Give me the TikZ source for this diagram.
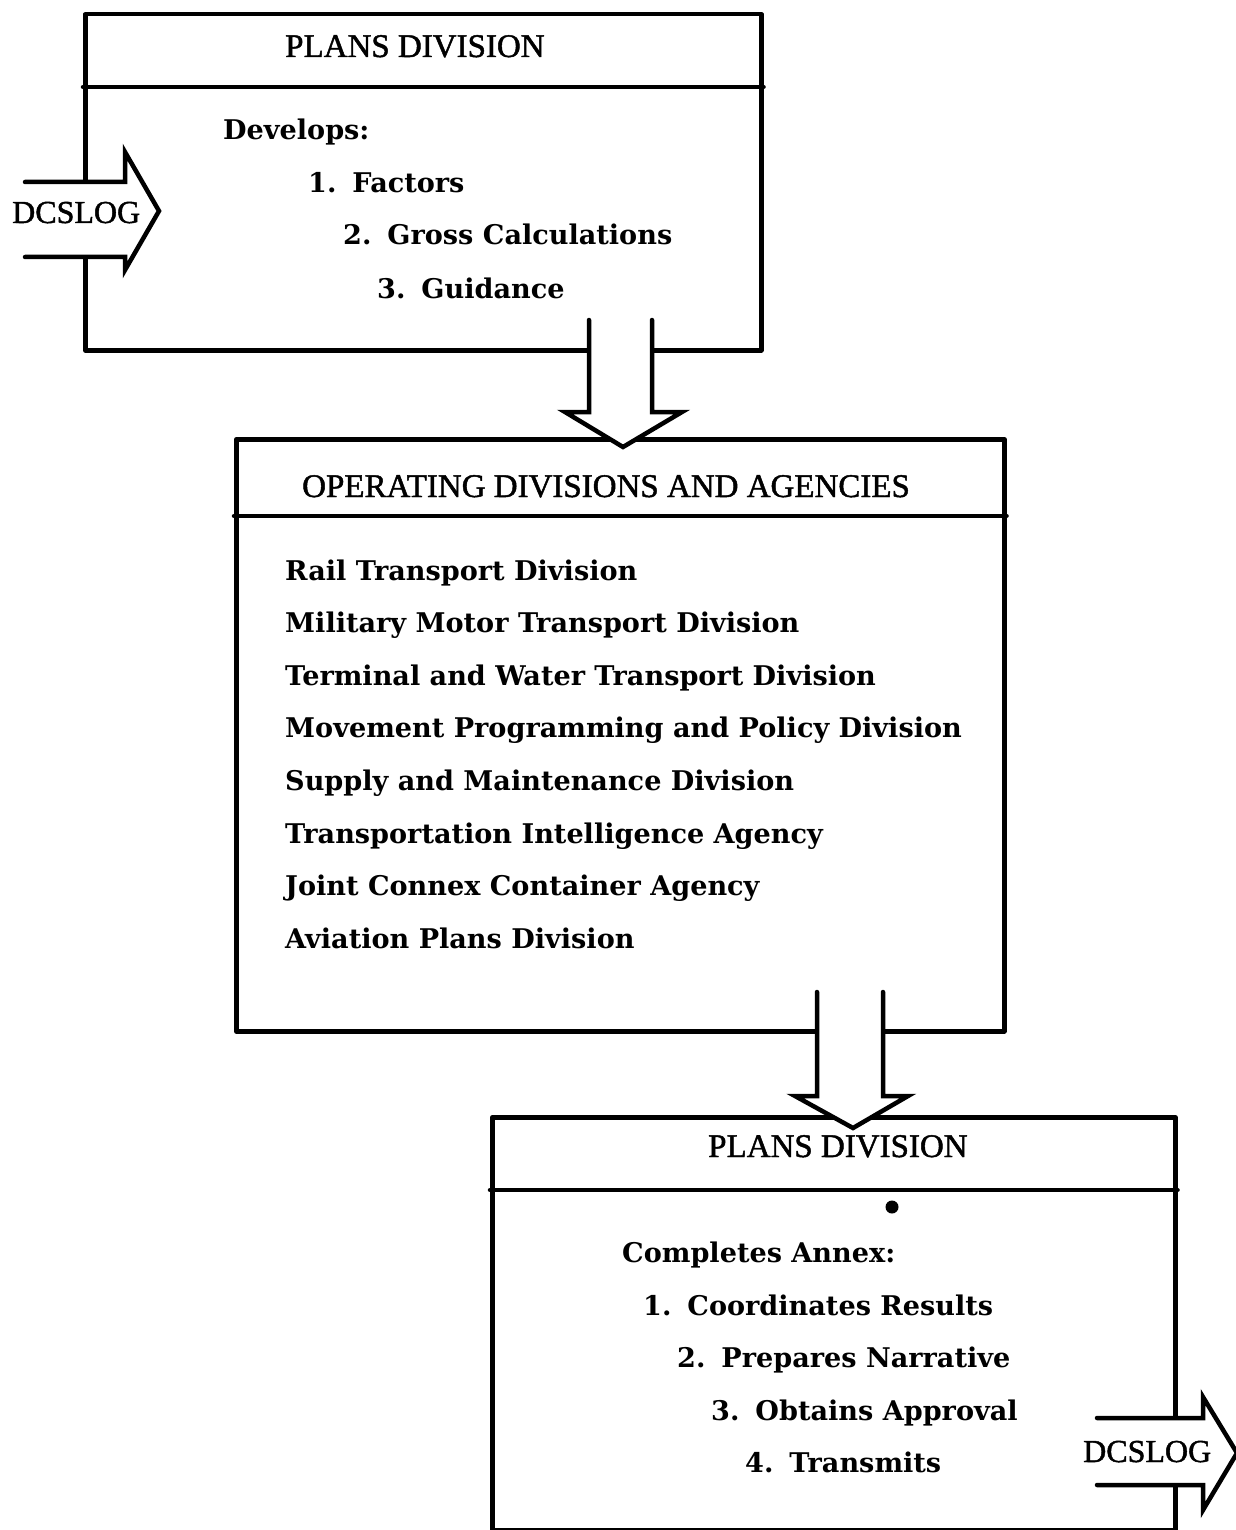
\documentclass[tikz,border=0pt]{standalone}
\usepackage{fontspec}
\setmainfont{Liberation Serif}
\newfontfamily\headfont[FakeBold=1.4]{Liberation Serif}
\newfontfamily\bodyfont{DejaVu Serif}
\newcommand{\numgap}{\hspace{16pt}}
\tikzset{
  box/.style={draw, line width=4.5pt, line join=round, fill=white, inner sep=0pt, anchor=north west},
  rule/.style={line width=4.5pt, line cap=round},
  arrowfill/.style={fill=white},
  arrowline/.style={draw, line width=4.5pt, line join=miter, line cap=round},
  head/.style={font=\headfont\fontsize{33}{36}\selectfont, anchor=base west, inner sep=0pt},
  item/.style={font=\bodyfont\bfseries\fontsize{27.1}{30}\selectfont, anchor=base west, inner sep=0pt},
}
\begin{document}
\begin{tikzpicture}[x=1pt,y=-1pt]
\useasboundingbox (0,0) rectangle (1235,1530);

% ---------- boxes ----------
\node[box, minimum width=676pt, minimum height=336pt] (top) at (83,12) {};
\node[box, minimum width=768pt, minimum height=592pt] (mid) at (234,437) {};
\node[box, minimum width=683pt, minimum height=413pt] (bot) at (490,1115) {};

% header rules
\draw[rule] (top.west |- 0,87) -- (top.east |- 0,87);
\draw[rule] (mid.west |- 0,516) -- (mid.east |- 0,516);
\draw[rule] (bot.west |- 0,1190) -- (bot.east |- 0,1190);

% ---------- block arrows ----------
% input DCSLOG (left)
\fill[arrowfill] (25,182) -- (125,182) -- (125,152) -- (159,211) -- (125,270) -- (125,257) -- (25,257) -- cycle;
\draw[arrowline] (25,182) -- (125,182) -- (125,152) -- (159,211) -- (125,270) -- (125,257) -- (25,257);

% top -> mid
\fill[arrowfill] (589,320) -- (589,412) -- (565,412) -- (623,447) -- (682,412) -- (652,412) -- (652,320) -- cycle;
\draw[arrowline] (589,320) -- (589,412) -- (565,412) -- (623,447) -- (682,412) -- (652,412) -- (652,320);

% mid -> bot
\fill[arrowfill] (817,992) -- (817,1096) -- (795,1096) -- (853,1128) -- (908,1096) -- (883,1096) -- (883,992) -- cycle;
\draw[arrowline] (817,992) -- (817,1096) -- (795,1096) -- (853,1128) -- (908,1096) -- (883,1096) -- (883,992);

% output DCSLOG (right)
\fill[arrowfill] (1097,1418) -- (1203,1418) -- (1203,1397) -- (1237,1453) -- (1203,1510) -- (1203,1485) -- (1097,1485) -- cycle;
\draw[arrowline] (1097,1418) -- (1203,1418) -- (1203,1397) -- (1237,1453) -- (1203,1510) -- (1203,1485) -- (1097,1485);

% ---------- texts ----------
\node[head] (t1h) at (285,57) {PLANS DIVISION};
\node[item] (t1a) at (223,140) {Develops:};
\node[item] (t1b) at (308,193) {1.\numgap Factors};
\node[item] (t1c) at (343,245) {2.\numgap Gross Calculations};
\node[item] (t1d) at (377,298) {3.\numgap Guidance};
\node[head, font=\headfont\fontsize{32}{36}\selectfont] (inlab) at (12,223) {DCSLOG};

\node[head] (t2h) at (302,497) {OPERATING DIVISIONS AND AGENCIES};
\node[item] (m1) at (285,580) {Rail Transport Division};
\node[item] (m2) at (285,632.6) {Military Motor Transport Division};
\node[item] (m3) at (285,685.2) {Terminal and Water Transport Division};
\node[item] (m4) at (285,737.8) {Movement Programming and Policy Division};
\node[item] (m5) at (285,790.4) {Supply and Maintenance Division};
\node[item] (m6) at (285,843) {Transportation Intelligence Agency};
\node[item] (m7) at (285,895.6) {Joint Connex Container Agency};
\node[item] (m8) at (285,948.2) {Aviation Plans Division};

\node[head] (t3h) at (708,1157) {PLANS DIVISION};
\fill (892,1207) circle (6.5pt);
\node[item] (b0) at (622,1262) {Completes Annex:};
\node[item] (b1) at (643,1315) {1.\numgap Coordinates Results};
\node[item] (b2) at (677,1367) {2.\numgap Prepares Narrative};
\node[item] (b3) at (711,1420) {3.\numgap Obtains Approval};
\node[item] (b4) at (745,1472) {4.\numgap Transmits};
\node[head, font=\headfont\fontsize{32}{36}\selectfont] (outlab) at (1083,1462) {DCSLOG};
\end{tikzpicture}
\end{document}
